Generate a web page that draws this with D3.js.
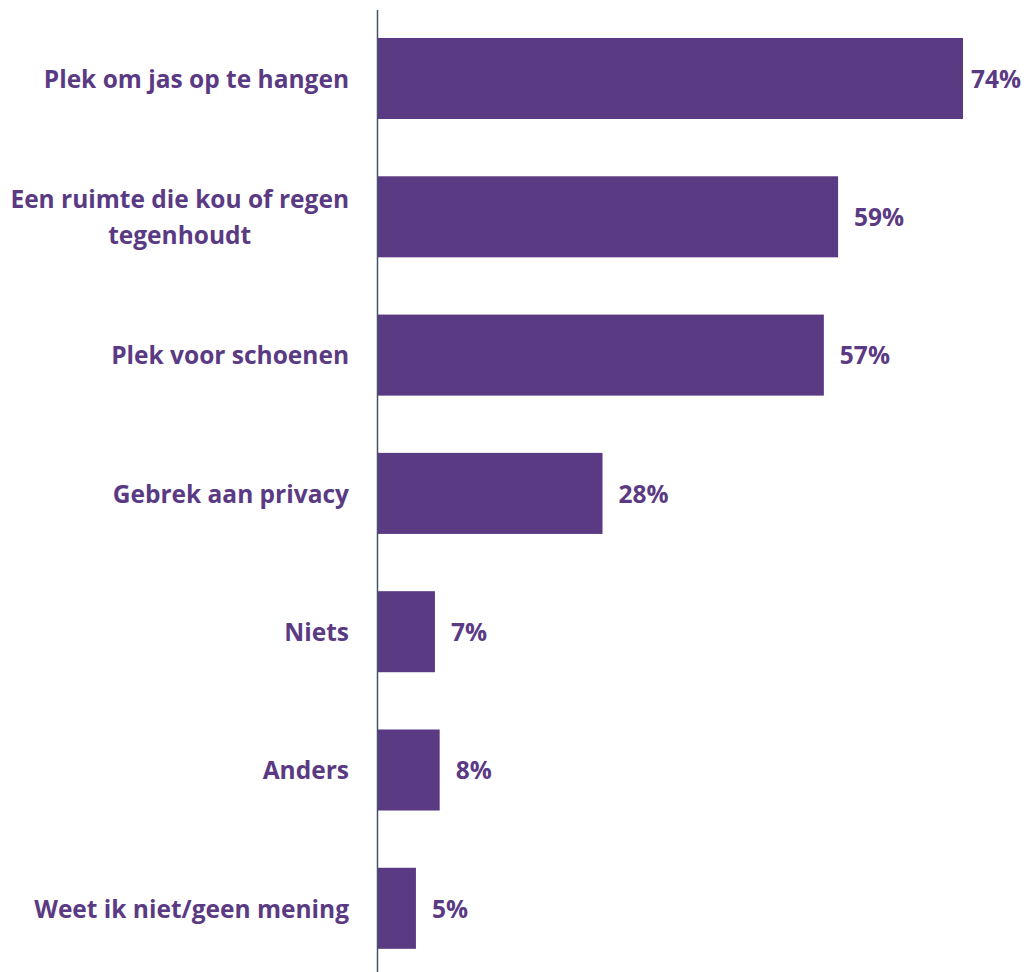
<!DOCTYPE html>
<html>
<head>
<meta charset="utf-8">
<script src="https://cdn.jsdelivr.net/npm/d3@7"></script>
<style>
html,body{margin:0;padding:0;background:#fff;}
svg{display:block;}
text{font-family:"Open Sans","Lato",sans-serif;font-weight:700;fill:#5B3A84;}
</style>
</head>
<body>
<svg id="chart" width="1027" height="972"></svg>
<script>
const categories = ["Plek om jas op te hangen","Een ruimte die kou of regen tegenhoudt","Plek voor schoenen","Gebrek aan privacy","Niets","Anders","Weet ik niet/geen mening"];
// bar lengths (unrounded estimates)
const values = [74,58.2,56.4,28.4,7.2,7.8,4.8];
// data labels as printed
const valueLabels = ["74%","59%","57%","28%","7%","8%","5%"];

const W = 1027, H = 972;
const svg = d3.select("#chart");
const color = "#5B3A84";
const axisX = 377.5;

const x = d3.scaleLinear().domain([0,74]).range([378,963]);
const y = d3.scaleBand().domain(categories).range([38 - 57.3/2, 38 - 57.3/2 + 7*138.3]).paddingInner(0.414).paddingOuter(0.207);

svg.selectAll("rect.bar").data(values).enter().append("rect")
  .attr("class","bar")
  .attr("x", x(0))
  .attr("y", (d,i)=>y(categories[i]))
  .attr("width", d=>x(d)-x(0))
  .attr("height", y.bandwidth())
  .attr("fill", color);

svg.append("line").attr("x1",axisX).attr("x2",axisX).attr("y1",10).attr("y2",H)
  .attr("stroke","#44546A").attr("stroke-width",1.5);

const fs = 24.5;
// value labels
svg.selectAll("text.val").data(values).enter().append("text")
  .attr("class","val")
  .attr("font-size",fs)
  .attr("y",(d,i)=>y(categories[i])+y.bandwidth()/2+9.3)
  .text((d,i)=>valueLabels[i])
  .each(function(d){
    const w = this.getComputedTextLength();
    const xx = Math.min(x(d)+16, W-6-w);
    d3.select(this).attr("x", xx);
  });

// category labels with wrapping
const maxW = 345, right = 349, lineH = 36;
categories.forEach((c,i)=>{
  const g = svg.append("text").attr("font-size",fs).attr("text-anchor","middle");
  const words = c.split(" ");
  const lines = [];
  let cur = [];
  const probe = svg.append("text").attr("font-size",fs);
  words.forEach(wd=>{
    const test = cur.concat([wd]).join(" ");
    probe.text(test);
    if (probe.node().getComputedTextLength() > maxW && cur.length){
      lines.push(cur.join(" ")); cur=[wd];
    } else cur.push(wd);
  });
  lines.push(cur.join(" "));
  let bw = 0;
  lines.forEach(l=>{probe.text(l); bw=Math.max(bw, probe.node().getComputedTextLength());});
  probe.remove();
  const cx = right - bw/2;
  const cy = y(c)+y.bandwidth()/2;
  const y0 = cy - (lines.length-1)*lineH/2 + 9.3;
  lines.forEach((l,k)=>{
    g.append("tspan").attr("x",cx).attr("y",y0+k*lineH).text(l);
  });
});
</script>
</body>
</html>
